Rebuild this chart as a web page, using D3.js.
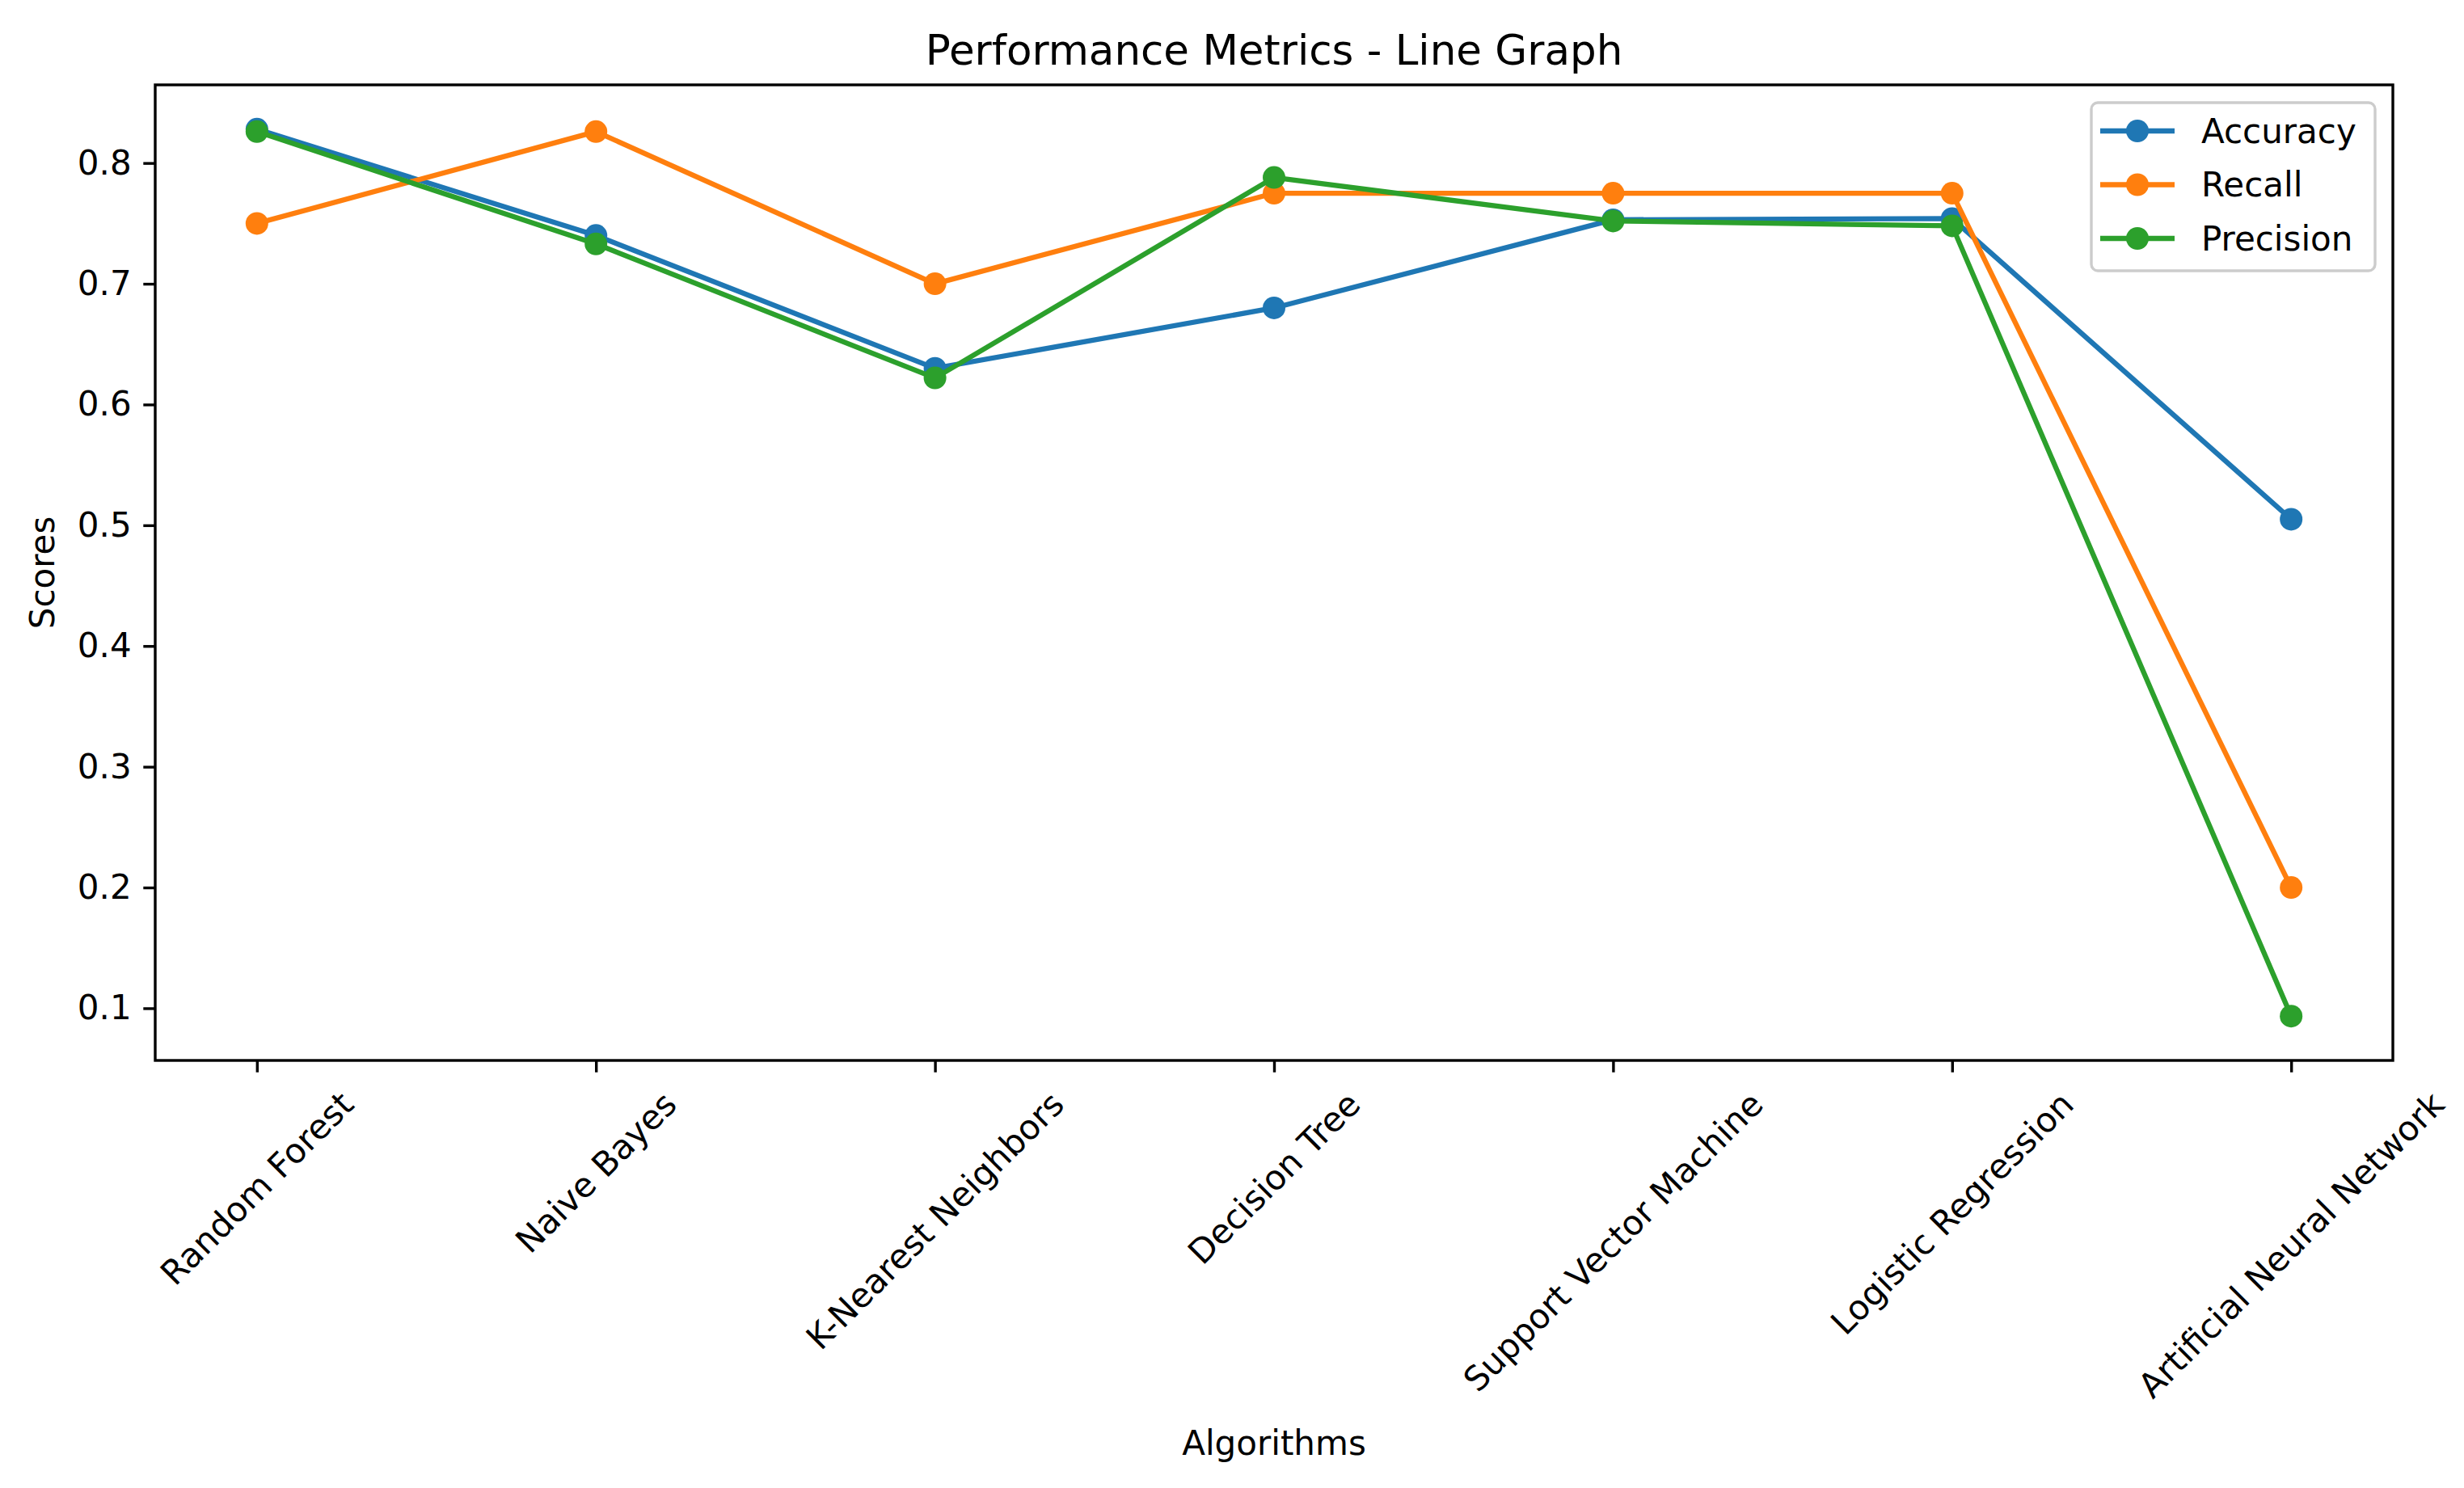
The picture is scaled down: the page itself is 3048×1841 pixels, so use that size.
<!DOCTYPE html>
<html>
<head>
<meta charset="utf-8">
<script src="https://cdn.jsdelivr.net/npm/d3@7"></script>
<style>
  body { margin: 0; background: #fff; }
  text { font-family: "DejaVu Sans", sans-serif; fill: #000; }
</style>
</head>
<body>
<svg id="chart"></svg>
<script>
const algorithms = ['Random Forest', 'Naive Bayes', 'K-Nearest Neighbors', 'Decision Tree',
    'Support Vector Machine', 'Logistic Regression', 'Artificial Neural Network'];
const accuracy = [0.828, 0.740, 0.630, 0.680, 0.753, 0.754, 0.505];
const recall = [0.750, 0.826, 0.700, 0.775, 0.775, 0.775, 0.200];
const precision = [0.826, 0.733, 0.622, 0.788, 0.752, 0.748, 0.0935];
const yTicks = [0.1, 0.2, 0.3, 0.4, 0.5, 0.6, 0.7, 0.8];

const series = [
    { name: 'Accuracy', values: accuracy, color: '#1f77b4' },
    { name: 'Recall', values: recall, color: '#ff7f0e' },
    { name: 'Precision', values: precision, color: '#2ca02c' }
];

const W = 3048, H = 1841;
const margin = { top: 105, right: 88, bottom: 529, left: 192 };
const width = W - margin.left - margin.right;
const height = H - margin.top - margin.bottom;
const fs = 42;          // 10pt
const lw = 6.3;         // 1.5pt line
const r = 14;           // marker radius
const tickLen = 14.7;

// matplotlib style 5% margins
const all = [].concat(accuracy, recall, precision);
const lo = d3.min(all), hi = d3.max(all);
const pad = (hi - lo) * 0.05;

const x = d3.scaleLinear()
    .domain([-0.3, algorithms.length - 1 + 0.3])
    .range([0, width]);

const y = d3.scaleLinear()
    .domain([lo - pad, hi + pad])
    .range([height, 0]);

const svg = d3.select('#chart')
    .attr('width', W)
    .attr('height', H);

svg.append('rect').attr('width', W).attr('height', H).attr('fill', '#fff');

const g = svg.append('g')
    .attr('transform', `translate(${margin.left},${margin.top})`);

// lines + markers
const line = d3.line()
    .x((d, i) => x(i))
    .y(d => y(d));

series.forEach(s => {
    g.append('path')
        .datum(s.values)
        .attr('fill', 'none')
        .attr('stroke', s.color)
        .attr('stroke-width', lw)
        .attr('stroke-linejoin', 'round')
        .attr('stroke-linecap', 'square')
        .attr('d', line);

    g.selectAll(null)
        .data(s.values)
        .enter()
        .append('circle')
        .attr('cx', (d, i) => x(i))
        .attr('cy', d => y(d))
        .attr('r', r)
        .attr('fill', s.color);
});

// y axis
const yAxis = d3.axisLeft(y)
    .tickValues(yTicks)
    .tickFormat(d3.format('.1f'))
    .tickSize(tickLen)
    .tickPadding(14.7);
const yg = g.append('g').call(yAxis);
yg.select('.domain').remove();
yg.selectAll('line').attr('stroke', '#000').attr('stroke-width', 3.4);
yg.selectAll('text').attr('font-size', fs).attr('font-family', 'DejaVu Sans');

// x axis
const xAxis = d3.axisBottom(x)
    .tickValues(d3.range(algorithms.length))
    .tickFormat('')
    .tickSize(tickLen);
const xg = g.append('g')
    .attr('transform', `translate(0,${height})`)
    .call(xAxis);
xg.select('.domain').remove();
xg.selectAll('line').attr('stroke', '#000').attr('stroke-width', 3.4);

// rotated x labels, bbox centred on tick like matplotlib rotation=45
const y0 = height + tickLen + 14.7;
let maxBottom = 0;
algorithms.forEach((name, i) => {
    const t = g.append('text')
        .attr('font-size', fs)
        .attr('text-anchor', 'middle')
        .attr('dy', '0.35em')
        .text(name);
    const w = t.node().getComputedTextLength();
    const h = (w + fs * 1.16) * Math.SQRT1_2;
    const cy = y0 + h / 2;
    maxBottom = Math.max(maxBottom, y0 + h);
    t.attr('transform', `translate(${x(i)},${cy}) rotate(-45)`);
});

// frame
g.append('rect')
    .attr('width', width)
    .attr('height', height)
    .attr('fill', 'none')
    .attr('stroke', '#000')
    .attr('stroke-width', 3.4);

// titles
g.append('text')
    .attr('x', width / 2)
    .attr('y', -25)
    .attr('font-size', 51.5)
    .attr('text-anchor', 'middle')
    .text('Performance Metrics - Line Graph');

g.append('text')
    .attr('x', width / 2)
    .attr('y', maxBottom + 22 + fs * 0.93)
    .attr('font-size', fs)
    .attr('text-anchor', 'middle')
    .text('Algorithms');

g.append('text')
    .attr('transform', `translate(${52 - margin.left},${height / 2}) rotate(-90)`)
    .attr('font-size', fs)
    .attr('text-anchor', 'middle')
    .attr('dy', '0.35em')
    .text('Scores');

// legend
const legend = svg.append('g')
    .attr('transform', 'translate(2587,127)');
legend.append('rect')
    .attr('width', 351)
    .attr('height', 208)
    .attr('rx', 8)
    .attr('fill', '#fff')
    .attr('fill-opacity', 0.8)
    .attr('stroke', '#cccccc')
    .attr('stroke-width', 3.4);

series.forEach((s, i) => {
    const row = legend.append('g')
        .attr('transform', `translate(0,${35 + i * 66.5})`);
    row.append('line')
        .attr('x1', 11).attr('x2', 103)
        .attr('stroke', s.color)
        .attr('stroke-width', lw);
    row.append('circle')
        .attr('cx', 57)
        .attr('r', r)
        .attr('fill', s.color);
    row.append('text')
        .attr('x', 136)
        .attr('dy', '0.35em')
        .attr('font-size', fs)
        .text(s.name);
});
</script>
</body>
</html>
